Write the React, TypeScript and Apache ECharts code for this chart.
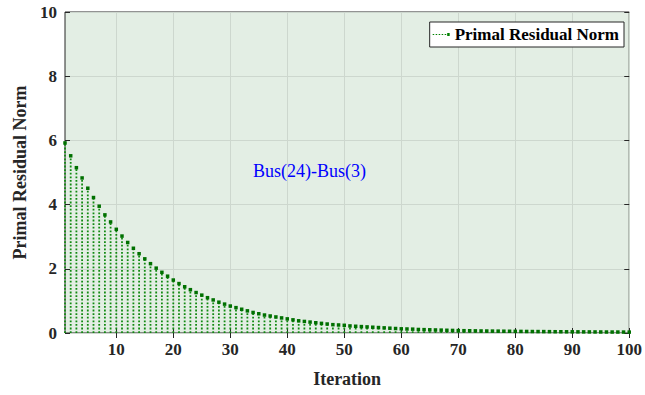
import React, { useEffect, useRef } from "react";
import * as echarts from "echarts";

const iterations: number[] = Array.from({ length: 100 }, (_, i) => i + 1);
const residuals: number[] = [
  5.92, 5.52, 5.15, 4.83, 4.51, 4.22, 3.95, 3.68, 3.46, 3.23,
  3.02, 2.82, 2.64, 2.47, 2.31, 2.16, 2.02, 1.89, 1.77, 1.65,
  1.54, 1.44, 1.35, 1.26, 1.18, 1.10, 1.03, 0.96, 0.90, 0.84,
  0.79, 0.74, 0.69, 0.64, 0.60, 0.56, 0.53, 0.50, 0.47, 0.44,
  0.41, 0.38, 0.36, 0.34, 0.32, 0.30, 0.28, 0.26, 0.25, 0.24,
  0.22, 0.21, 0.20, 0.19, 0.18, 0.17, 0.16, 0.15, 0.14, 0.13,
  0.125, 0.12, 0.11, 0.105, 0.10, 0.095, 0.09, 0.085, 0.08, 0.075,
  0.072, 0.07, 0.067, 0.064, 0.062, 0.06, 0.058, 0.056, 0.054, 0.052,
  0.05, 0.048, 0.046, 0.045, 0.044, 0.042, 0.04, 0.039, 0.038, 0.037,
  0.036, 0.035, 0.034, 0.033, 0.032, 0.031, 0.03, 0.03, 0.029, 0.028,
];
const xTicks: number[] = [10, 20, 30, 40, 50, 60, 70, 80, 90, 100];
const seriesName = "Primal Residual Norm";
const annotation = "Bus(24)-Bus(3)";

const FONT = "Liberation Serif";
const GREEN = "#008000";
const AXIS = "#262626";

export default function App() {
  const ref = useRef<HTMLDivElement>(null);
  useEffect(() => {
    if (!ref.current) return;
    const chart = echarts.init(ref.current, null, { renderer: "svg" });
    const data = iterations.map((x, i) => [x, residuals[i]]);
    const baseX = {
      type: "value",
      min: 1,
      max: 100,
      axisLine: { show: false },
      axisTick: { show: true, inside: true, length: 5, customValues: xTicks, lineStyle: { color: AXIS } },
      splitLine: { show: false },
    };
    const baseY = {
      type: "value",
      min: 0,
      max: 10,
      interval: 2,
      axisLine: { show: false },
      axisTick: { show: true, inside: true, length: 5, lineStyle: { color: AXIS } },
    };
    chart.setOption({
      animation: false,
      grid: {
        left: 65,
        right: 13,
        top: 12,
        bottom: 62,
        show: true,
        backgroundColor: "#e3eee4",
        borderColor: AXIS,
        borderWidth: 1,
      },
      legend: {
        data: [
          {
            name: seriesName,
            icon: "path://M0,2h1.5v1h-1.5zM3,2h1.5v1h-1.5zM6,2h1.5v1h-1.5zM9,2h1.5v1h-1.5zM12,2h1.5v1h-1.5zM14.5,1h2.5v3h-2.5z",
          },
        ],
        right: 21,
        top: 22,
        itemWidth: 17,
        itemHeight: 5,
        itemGap: 5,
        backgroundColor: "#ffffff",
        borderColor: AXIS,
        borderWidth: 1,
        borderRadius: 0,
        padding: [4, 5, 4, 3],
        textStyle: { fontFamily: FONT, fontWeight: "bold", fontSize: 17, color: "#000" },
      },
      xAxis: [
        {
          ...baseX,
          position: "bottom",
          name: "Iteration",
          nameLocation: "middle",
          nameGap: 37,
          nameTextStyle: { fontFamily: FONT, fontWeight: "bold", fontSize: 18, color: AXIS },
          axisLabel: {
            customValues: xTicks,
            margin: 8,
            fontFamily: FONT,
            fontWeight: "bold",
            fontSize: 17,
            color: AXIS,
            overflow: "none",
            hideOverlap: false,
          },
          splitLine: { show: true, lineStyle: { color: "#cdd7ce", width: 1 } },
        },
        {
          ...baseX,
          position: "top",
          axisLabel: { show: false },
        },
      ],
      yAxis: [
        {
          ...baseY,
          position: "left",
          name: "Primal Residual Norm",
          nameLocation: "middle",
          nameGap: 36,
          nameTextStyle: { fontFamily: FONT, fontWeight: "bold", fontSize: 18, color: AXIS },
          axisLabel: { margin: 8, fontFamily: FONT, fontWeight: "bold", fontSize: 17, color: AXIS },
          splitLine: { show: true, lineStyle: { color: "#cdd7ce", width: 1 } },
        },
        {
          ...baseY,
          position: "right",
          axisLabel: { show: false },
          splitLine: { show: false },
        },
      ],
      graphic: [
        {
          type: "text",
          left: 253,
          top: 162,
          style: { text: annotation, fill: "#0000ff", font: `18px ${FONT}` },
          z: 10,
        },
      ],
      series: [
        {
          name: seriesName,
          type: "custom",
          xAxisIndex: 0,
          yAxisIndex: 0,
          itemStyle: { color: GREEN },
          data,
          renderItem: (params: any, api: any) => {
            const x = api.value(0);
            const y = api.value(1);
            const p0 = api.coord([x, 0]);
            const p1 = api.coord([x, y]);
            return {
              type: "group",
              children: [
                {
                  type: "line",
                  shape: { x1: p0[0], y1: p0[1], x2: p1[0], y2: p1[1] },
                  style: { stroke: "#128a12", lineWidth: 1.8, lineDash: [1.8, 1.8] },
                },
                {
                  type: "rect",
                  shape: { x: p1[0] - 1.75, y: p1[1] - 1.75, width: 3.5, height: 3.5 },
                  style: { fill: "#007000" },
                },
              ],
            };
          },
        },
      ],
    });
    return () => chart.dispose();
  }, []);
  return (
    <div
      ref={ref}
      style={{ position: "absolute", left: 0, top: 0, width: 645, height: 395 }}
    />
  );
}
